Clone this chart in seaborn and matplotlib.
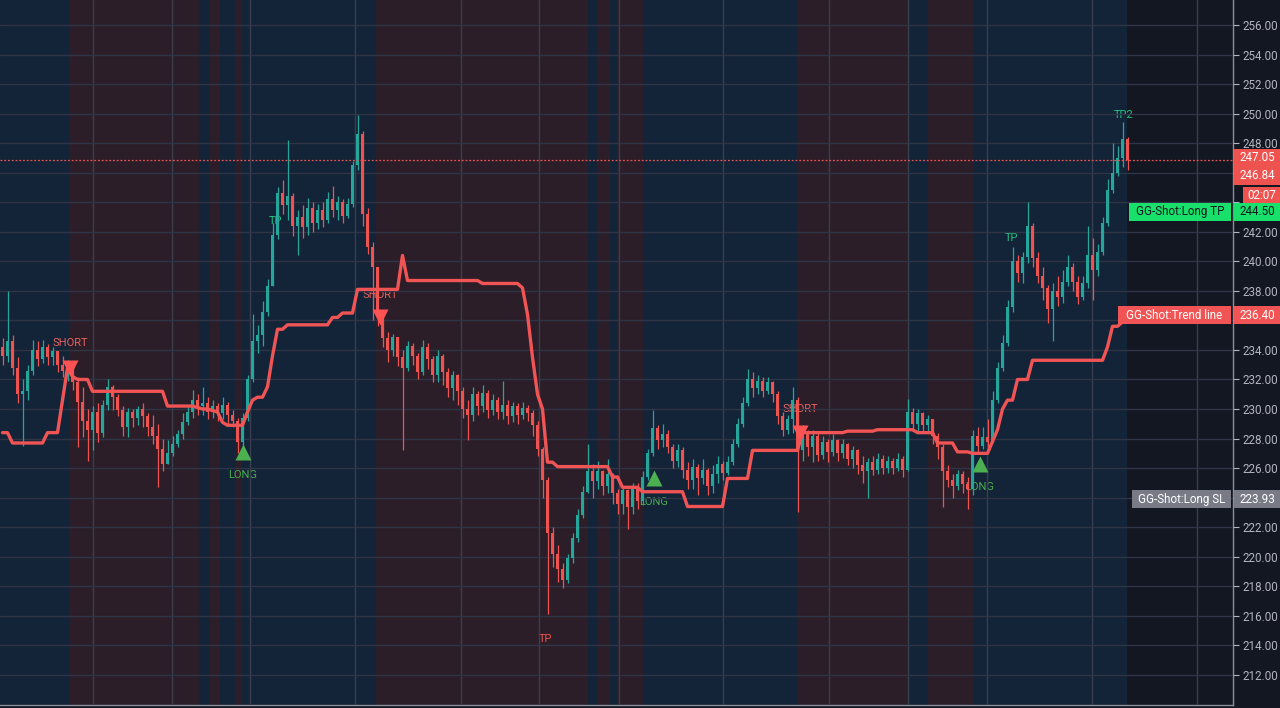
import numpy as np
import matplotlib
matplotlib.use("Agg")
import matplotlib.pyplot as plt
import matplotlib.transforms as mtransforms
from matplotlib.patches import Rectangle
from matplotlib.ticker import FuncFormatter
import seaborn as sns

# ---- candle data (one bar per ~5 px of the reference) ----
first_open = 234.2
closes = [
    233.6, 234.6, 232.8, 231.0, 231.2, 232.6, 234.0, 233.4, 234.2, 233.5,
    233.9, 233.0, 232.6, 232.9, 231.8, 230.5, 229.2, 228.6, 229.8, 228.4,
    230.3, 231.5, 230.8, 229.9, 228.8, 229.8, 229.4, 230.0, 229.5, 228.8,
    228.2, 227.3, 226.3, 227.0, 227.6, 228.3, 229.1, 229.8, 230.6, 230.2,
    230.4, 229.8, 230.2, 229.7, 230.3, 229.6, 229.2, 227.8, 229.4, 232.0,
    234.6, 235.0, 236.6, 238.3, 241.8, 244.6, 243.8, 244.4, 242.4, 243.0,
    242.3, 243.6, 242.6, 243.5, 242.8, 244.2, 243.5, 244.0, 243.1, 243.9,
    246.5, 248.6, 243.2, 241.0, 239.6, 236.2, 234.8, 234.0, 234.9, 233.5,
    232.8, 234.3, 233.6, 232.5, 234.2, 233.4, 232.3, 233.6, 232.5, 231.4,
    232.3, 231.2, 230.0, 229.6, 231.0, 230.2, 231.1, 229.9, 230.6, 229.8,
    230.3, 229.5, 230.2, 229.6, 230.1, 229.7, 228.9, 227.3, 225.2, 221.6,
    220.2, 219.2, 218.4, 219.9, 221.3, 222.8, 224.4, 225.8, 225.1, 225.8,
    224.8, 225.6, 224.3, 223.6, 224.5, 223.4, 224.6, 223.8, 225.4, 227.0,
    228.7, 227.9, 228.3, 227.4, 226.5, 227.2, 225.9, 225.2, 226.1, 225.3,
    225.9, 224.8, 225.6, 226.3, 225.7, 226.4, 227.6, 229.0, 230.4, 232.0,
    231.4, 231.9, 231.2, 231.8, 231.0, 229.5, 228.6, 229.3, 230.6, 227.2,
    228.4, 227.4, 228.2, 226.9, 227.8, 227.1, 227.9, 227.0, 227.6, 226.6,
    227.2, 226.2, 225.8, 226.4, 225.9, 226.6, 226.0, 226.5, 226.0, 226.6,
    225.9, 229.8, 229.0, 229.7, 228.9, 229.3, 228.2, 227.4, 225.8, 225.2,
    224.8, 225.6, 224.9, 224.6, 228.2, 227.5, 228.1, 227.8, 230.6, 232.8,
    234.5, 236.9, 240.0, 239.2, 240.3, 242.4, 240.2, 239.0, 238.2, 236.8,
    238.0, 237.6, 238.6, 239.6, 238.6, 237.6, 238.5, 240.4, 239.4, 240.6,
    242.6, 244.8, 246.0, 247.0, 248.3, 246.84,
]
highs = [
    234.8, 238.0, 235.0, 233.5, 232.0, 233.0, 234.7, 234.6, 234.7, 234.4,
    234.2, 233.9, 233.6, 233.3, 233.0, 232.2, 231.5, 230.0, 230.2, 230.4,
    230.6, 232.0, 231.6, 231.0, 230.2, 230.1, 230.0, 230.2, 230.4, 229.7,
    229.6, 229.0, 228.0, 227.9, 228.2, 228.6, 229.7, 230.3, 231.3, 231.0,
    231.5, 230.8, 230.6, 230.4, 230.8, 230.5, 229.9, 229.4, 229.7, 232.3,
    236.4, 235.7, 237.3, 238.8, 242.6, 245.0, 245.5, 248.2, 244.6, 243.5,
    243.8, 244.3, 244.0, 243.9, 244.0, 244.7, 245.1, 244.4, 244.2, 244.3,
    246.8, 249.9, 248.8, 243.6, 241.3, 239.2, 236.0, 235.2, 235.1, 234.8,
    234.0, 234.6, 234.5, 233.8, 234.7, 234.5, 233.6, 234.0, 233.7, 232.8,
    232.6, 232.4, 231.5, 230.6, 231.5, 231.2, 231.6, 231.3, 231.0, 230.8,
    231.9, 230.6, 230.5, 230.4, 230.5, 230.3, 229.9, 229.2, 227.4, 225.4,
    222.0, 220.8, 219.6, 220.2, 221.6, 223.2, 224.8, 227.6, 226.3, 226.5,
    225.9, 226.6, 225.7, 224.6, 224.8, 224.6, 225.0, 225.0, 225.8, 227.3,
    229.9, 228.9, 229.0, 228.6, 227.6, 227.6, 227.4, 226.4, 226.6, 226.3,
    226.6, 226.0, 226.2, 226.8, 226.5, 226.8, 228.0, 229.4, 230.8, 232.7,
    232.5, 232.3, 232.2, 232.2, 231.9, 231.2, 229.8, 229.6, 231.5, 230.8,
    228.9, 228.6, 228.6, 228.4, 228.2, 228.0, 228.3, 228.0, 228.0, 227.7,
    227.5, 227.3, 226.8, 226.7, 226.8, 227.0, 226.9, 226.8, 226.7, 227.0,
    226.8, 230.7, 230.1, 230.0, 229.8, 229.6, 229.3, 228.4, 227.6, 226.2,
    225.6, 225.9, 225.8, 225.4, 228.6, 228.8, 228.8, 229.3, 231.2, 233.2,
    235.0, 237.4, 241.0, 240.4, 240.6, 244.0, 242.6, 240.6, 239.6, 238.4,
    238.5, 239.0, 239.4, 240.4, 239.9, 239.0, 239.0, 242.4, 241.6, 241.2,
    243.0, 245.6, 248.0, 247.8, 249.4, 248.4,
]
lows = [
    233.0, 233.2, 232.3, 230.4, 227.5, 230.6, 232.3, 232.9, 233.1, 233.0,
    233.0, 232.5, 232.2, 231.9, 231.3, 227.4, 228.1, 226.5, 227.2, 227.8,
    228.1, 229.9, 229.9, 229.5, 228.2, 228.1, 228.8, 228.9, 228.8, 228.2,
    227.6, 224.7, 225.8, 226.4, 226.8, 227.4, 228.0, 228.9, 229.4, 229.6,
    229.6, 229.3, 229.4, 229.2, 229.3, 229.0, 228.8, 227.0, 227.4, 229.2,
    231.8, 233.8, 234.3, 236.3, 238.4, 241.5, 243.2, 242.8, 241.7, 240.4,
    241.6, 241.8, 242.0, 242.2, 242.3, 242.6, 243.0, 242.8, 242.6, 242.9,
    243.7, 246.2, 242.4, 240.5, 236.0, 235.6, 234.2, 233.2, 233.6, 232.9,
    227.2, 232.6, 233.0, 232.0, 232.3, 232.7, 231.8, 231.8, 231.6, 230.8,
    230.6, 230.3, 229.4, 227.9, 229.2, 229.6, 229.8, 229.4, 229.6, 229.3,
    229.3, 229.0, 229.1, 229.0, 229.3, 229.2, 228.2, 226.8, 224.0, 216.1,
    219.3, 218.3, 217.9, 218.2, 219.6, 221.0, 222.6, 224.3, 224.0, 224.6,
    224.2, 224.3, 223.6, 222.9, 222.9, 221.9, 222.9, 223.2, 223.5, 225.2,
    226.8, 227.3, 227.4, 227.0, 226.0, 226.1, 225.3, 224.6, 224.6, 224.2,
    224.9, 224.2, 224.3, 225.0, 225.2, 225.5, 226.2, 227.4, 228.8, 230.2,
    230.8, 231.0, 230.8, 231.0, 230.5, 229.0, 228.2, 228.3, 228.4, 223.0,
    226.5, 226.8, 226.4, 226.5, 226.6, 226.4, 226.8, 226.5, 226.7, 226.2,
    226.0, 225.6, 225.0, 224.0, 225.5, 225.6, 225.6, 225.7, 225.6, 225.8,
    225.4, 225.8, 228.6, 228.4, 228.5, 228.4, 227.6, 226.6, 223.4, 224.7,
    224.0, 224.5, 224.3, 223.2, 224.2, 227.0, 227.3, 227.4, 227.8, 230.4,
    232.6, 234.3, 236.6, 238.6, 238.5, 239.9, 239.6, 238.5, 237.4, 235.8,
    234.6, 237.0, 237.2, 238.3, 238.0, 237.1, 237.4, 238.2, 237.4, 239.0,
    240.4, 242.4, 244.6, 245.8, 246.4, 246.2,
]
# GG-Shot trend line, one value per bar
trend = [
    228.4, 228.4, 227.7, 227.7, 227.7, 227.7, 227.7, 227.7, 227.7, 228.4,
    228.4, 228.4, 230.6, 232.8, 232.2, 232.0, 232.0, 232.0, 231.2, 231.2,
    231.2, 231.2, 231.2, 231.2, 231.2, 231.2, 231.2, 231.2, 231.2, 231.2,
    231.2, 231.2, 231.2, 230.2, 230.2, 230.2, 230.2, 230.2, 230.2, 230.1,
    230.0, 230.0, 229.9, 229.8, 229.1, 228.9, 228.9, 228.9, 228.9, 229.8,
    230.6, 230.8, 230.8, 231.5, 233.6, 235.4, 235.4, 235.7, 235.7, 235.7,
    235.7, 235.7, 235.7, 235.7, 235.7, 235.7, 236.2, 236.2, 236.5, 236.5,
    236.5, 238.1, 238.1, 238.1, 238.1, 238.1, 238.1, 238.1, 238.1, 238.1,
    240.4, 238.7, 238.7, 238.7, 238.7, 238.7, 238.7, 238.7, 238.7, 238.7,
    238.7, 238.7, 238.7, 238.7, 238.7, 238.7, 238.5, 238.5, 238.5, 238.5,
    238.5, 238.5, 238.5, 238.5, 238.2, 236.4, 233.5, 231.0, 230.0, 226.4,
    226.4, 226.1, 226.1, 226.1, 226.1, 226.1, 226.1, 226.1, 226.1, 226.1,
    226.1, 226.1, 225.4, 225.4, 224.7, 224.7, 224.7, 224.7, 224.4, 224.4,
    224.4, 224.4, 224.4, 224.4, 224.4, 224.4, 224.4, 223.4, 223.4, 223.4,
    223.4, 223.4, 223.4, 223.4, 223.4, 225.3, 225.3, 225.3, 225.3, 225.3,
    227.2, 227.2, 227.2, 227.2, 227.2, 227.2, 227.2, 227.2, 227.2, 227.2,
    228.4, 228.4, 228.4, 228.4, 228.4, 228.4, 228.4, 228.4, 228.4, 228.5,
    228.5, 228.5, 228.5, 228.5, 228.5, 228.6, 228.6, 228.6, 228.6, 228.6,
    228.6, 228.6, 228.6, 228.4, 228.4, 228.4, 228.4, 227.7, 227.7, 227.7,
    227.7, 227.1, 227.1, 227.1, 227.0, 227.0, 227.0, 227.0, 227.8, 228.6,
    230.0, 230.6, 230.6, 232.0, 232.0, 232.0, 233.3, 233.3, 233.3, 233.3,
    233.3, 233.3, 233.3, 233.3, 233.3, 233.3, 233.3, 233.3, 233.3, 233.3,
    233.3, 234.2, 235.6, 235.6, 235.9, 236.4,
]

# regime shading (bar edges) and its kind
band_edges = [-0.5, 13.3, 39.3, 41.3, 43.5, 46.5, 47.9, 74.7, 117.1, 118.9,
              121.5, 122.9, 128.1, 158.9, 181.1, 185.1, 194.1, 224.9]
band_kind = ["bull", "bear", "bull", "bear", "bull", "bear", "bull", "bear", "bull",
             "bear", "bull", "bear", "bull", "bear", "bull", "bear", "bull"]

# signals
signal_bars = [13.5, 48.1, 75.5, 130.3, 159.5, 195.5]
signal_kind = ["SHORT", "LONG", "SHORT", "LONG", "SHORT", "LONG"]
signal_marker_price = [232.8, 227.1, 236.2, 225.3, 228.4, 226.3]
signal_label_price = [234.5, 225.5, 237.7, 223.7, 230.0, 224.7]

tp_bars = [54.5, 108.5, 201.7, 224.3]
tp_text = ["TP", "TP", "TP", "TP2"]
tp_price = [242.7, 214.4, 241.6, 249.9]
tp_side = ["long", "short", "long", "long"]

# time grid positions (bars)
time_grid = [18.1, 33.9, 49.5, 70.5, 91.7, 107.3, 123.3, 144.1, 165.3, 181.1,
             196.9, 217.9, 238.9]

last_price = 246.84
# price-scale labels hidden under the tags
hidden_ticks = [224, 236, 244, 246]

# ---- colours ----
NEUTRAL = "#131722"
BULL_BG = "#132338"
BEAR_BG = "#2c1e28"
UP = "#26a69a"
DOWN = "#ef5350"
TREND = "#f05454"
AXIS_TXT = "#b2b5be"
PX_PER_UNIT = 14.77
AX_W = 1233

sns.set_theme(style="dark")
plt.rcParams["font.family"] = ["Roboto", "DejaVu Sans"]

fig = plt.figure(figsize=(12.8, 7.08), dpi=100, facecolor=NEUTRAL)
ax = fig.add_axes([0, 3 / 708, AX_W / 1280, 705 / 708])
ax.set_facecolor(NEUTRAL)

for a, b, k in zip(band_edges[:-1], band_edges[1:], band_kind):
    ax.axvspan(a, b, color=BULL_BG if k == "bull" else BEAR_BG, lw=0, zorder=0)

# candles
x = np.arange(len(closes))
c = np.array(closes)
o = np.concatenate([[first_open], c[:-1]])
h = np.maximum(np.array(highs), np.maximum(o, c))
l = np.minimum(np.array(lows), np.minimum(o, c))
cols = np.where(c >= o, UP, DOWN)
ax.vlines(x, l, h, colors=cols, lw=0.9, zorder=3)
body = np.abs(c - o)
body = np.where(body < 0.06, 0.06, body)
ax.bar(x, body, bottom=np.minimum(o, c), width=0.75, color=cols, lw=0, zorder=4)

# trend line
sns.lineplot(x=x, y=trend, ax=ax, color=TREND, lw=2.4, zorder=5, legend=False)

# last price line
ax.axhline(last_price, color=DOWN, lw=0.9, ls=(0, (1.5, 1.5)), zorder=6)

# signals
for b, k, mp, lp in zip(signal_bars, signal_kind, signal_marker_price, signal_label_price):
    if k == "SHORT":
        ax.plot(b, mp, marker="v", ms=11, color="#ff5252", mec="none", zorder=7)
        ax.text(b, lp, "SHORT", color="#e8625e", fontsize=8, ha="center", va="center", zorder=2.5)
    else:
        ax.plot(b, mp, marker="^", ms=11, color="#4caf50", mec="none", zorder=7)
        ax.text(b, lp, "LONG", color="#4caf50", fontsize=8, ha="center", va="center", zorder=2.5)

for b, t, p, s in zip(tp_bars, tp_text, tp_price, tp_side):
    ax.text(b, p, t, color="#22c77f" if s == "long" else "#ef5350", fontsize=8,
            ha="center", va="center", zorder=2.5)

# axes / grid
ax.set_xlim(-0.5, AX_W / 5 - 0.5)
ax.set_ylim(256 - 680 / PX_PER_UNIT, 256 + 25 / PX_PER_UNIT)
ax.set_yticks(np.arange(212, 257, 2))
ax.set_xticks(time_grid)
ax.yaxis.set_major_formatter(
    FuncFormatter(lambda v, pos: "" if round(v) in hidden_ticks else f"{v:.2f}"))
ax.yaxis.tick_right()
ax.tick_params(axis="y", colors=AXIS_TXT, labelsize=8.4, length=4, width=0.8, pad=3)
ax.tick_params(axis="x", colors=AXIS_TXT, length=3, width=0.8, labelbottom=False)
ax.xaxis.grid(True, color="#3a3f50", lw=1)
ax.yaxis.grid(True, color="#2f3546", lw=1)
ax.set_axisbelow(False)
for g in ax.get_xgridlines() + ax.get_ygridlines():
    g.set_zorder(1)
for s in ["top", "left"]:
    ax.spines[s].set_visible(False)
for s in ["right", "bottom"]:
    ax.spines[s].set_color("#8a8e99")
    ax.spines[s].set_linewidth(1)

tr = mtransforms.blended_transform_factory(ax.transAxes, ax.transData)


def tag(price, text, face, fg, x0, x1, hpx=18):
    hh = hpx / PX_PER_UNIT
    ax.add_patch(Rectangle((x0 / AX_W, price - hh / 2), (x1 - x0) / AX_W, hh,
                           transform=tr, facecolor=face, edgecolor="none",
                           clip_on=False, zorder=10))
    ax.text((x0 + x1) / 2 / AX_W, price, text, transform=tr, ha="center", va="center",
            color=fg, fontsize=8.4, clip_on=False, zorder=11)


tag(247.0, "247.05", "#ef5350", "white", 1234, 1280)
tag(245.78, "246.84", "#ef5350", "white", 1234, 1280)
tag(244.49, "02:07", "#ef5350", "white", 1243, 1280, 16)
tag(243.34, "GG-Shot:Long TP", "#19e06a", NEUTRAL, 1129, 1231)
tag(243.34, "244.50", "#19e06a", NEUTRAL, 1234, 1280)
tag(236.35, "GG-Shot:Trend line", "#f05454", "white", 1118, 1231)
tag(236.35, "236.40", "#f05454", "white", 1234, 1280)
tag(223.9, "GG-Shot:Long SL", "#787b86", "white", 1132, 1231)
tag(223.9, "223.93", "#787b86", "white", 1234, 1280)

fig.savefig("out.png", dpi=100, facecolor=fig.get_facecolor())
